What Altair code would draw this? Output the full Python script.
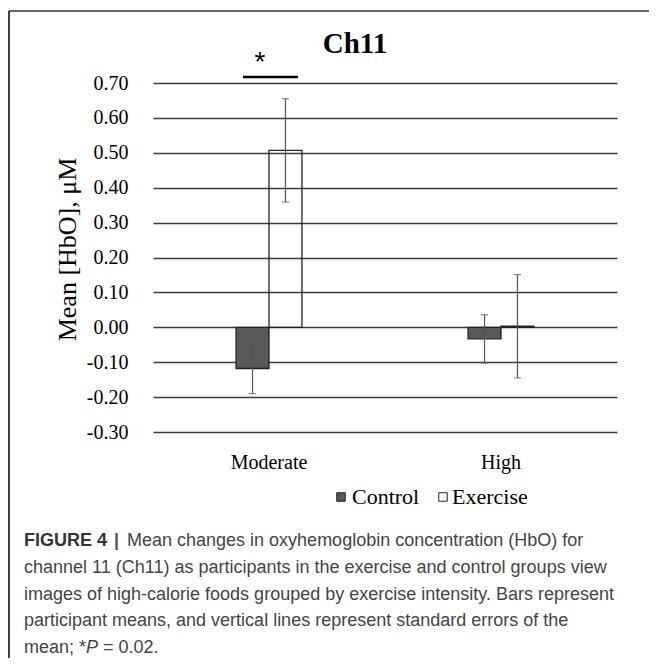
import altair as alt
import pandas as pd

# ---- data ----
groups = ["Moderate", "High"]
conditions = ["Control", "Exercise"]
control_means = [-0.118, -0.033]
exercise_means = [0.507, 0.003]
control_se = [0.072, 0.069]
exercise_se = [0.148, 0.148]
y_ticks = [-0.3, -0.2, -0.1, 0.0, 0.1, 0.2, 0.3, 0.4, 0.5, 0.6, 0.7]
fill_colors = ["#595959", "transparent"]

chart_title = "Ch11"
y_title = "Mean [HbO], \u03bcM"
caption_lines = [
    "Mean changes in oxyhemoglobin concentration (HbO) for",
    "channel 11 (Ch11) as participants in the exercise and control groups view",
    "images of high-calorie foods grouped by exercise intensity. Bars represent",
    "participant means, and vertical lines represent standard errors of the",
]

rows = []
for i, g in enumerate(groups):
    rows.append({"group": g, "condition": "Control", "mean": control_means[i], "se": control_se[i]})
    rows.append({"group": g, "condition": "Exercise", "mean": exercise_means[i], "se": exercise_se[i]})
df = pd.DataFrame(rows)
df["lo"] = df["mean"] - df["se"]
df["hi"] = df["mean"] + df["se"]

SERIF = "Liberation Serif"
SANS = "Liberation Sans"

x_enc = alt.X(
    "group:N",
    sort=groups,
    scale=alt.Scale(paddingInner=0.716, paddingOuter=0.358),
    axis=alt.Axis(
        title=None, labelAngle=0, domain=False, ticks=False, labelPadding=20,
        labelFont=SERIF, labelFontSize=20, labelColor="black", grid=False,
    ),
)
xoff_enc = alt.XOffset("condition:N", sort=conditions,
                       scale=alt.Scale(paddingInner=0, paddingOuter=0))
y_scale = alt.Scale(domain=[-0.3, 0.7], nice=False, zero=False)
y_axis = alt.Axis(
    values=y_ticks,
    labelExpr="replace(format(datum.value, '.2f'), '\u2212', '-')",
    labelOverlap=False,
    domain=False, ticks=False, labelPadding=25,
    labelFont=SERIF, labelFontSize=20, labelColor="black",
    grid=True, gridColor="#3a3a3a", gridWidth=1.5,
    title=y_title, titleFont=SERIF, titleFontSize=26, titleFontWeight="normal",
    titleColor="black", titleX=-86, titleY=166, titleAngle=270,
    titleAlign="center", titleBaseline="middle",
)

base = alt.Chart(df)

bars = base.mark_bar(stroke="#222222", strokeWidth=1.3).encode(
    x=x_enc,
    xOffset=xoff_enc,
    y=alt.Y("mean:Q", scale=y_scale, axis=y_axis),
    y2=alt.datum(0),
    fill=alt.Fill(
        "condition:N",
        sort=conditions,
        scale=alt.Scale(domain=conditions, range=fill_colors),
        legend=None,
    ),
)

err = base.mark_rule(color="#555555", strokeWidth=1.2).encode(
    x=x_enc, xOffset=xoff_enc, y=alt.Y("lo:Q", scale=y_scale, axis=y_axis), y2="hi:Q"
)
cap_lo = base.mark_tick(orient="horizontal", size=7, thickness=1.2, color="#555555").encode(
    x=x_enc, xOffset=xoff_enc, y=alt.Y("lo:Q", scale=y_scale, axis=y_axis)
)
cap_hi = base.mark_tick(orient="horizontal", size=7, thickness=1.2, color="#555555").encode(
    x=x_enc, xOffset=xoff_enc, y=alt.Y("hi:Q", scale=y_scale, axis=y_axis)
)

one = alt.Chart(pd.DataFrame({"k": [0]}))

# legend (drawn by hand to keep the serif Excel look)
legend_layers = []
leg_sym_x = [188, 290]
leg_txt_x = [199, 299]
for c, col, sx, tx in zip(conditions, fill_colors, leg_sym_x, leg_txt_x):
    legend_layers.append(one.mark_square(
        size=72, fill=col, stroke="#222222", strokeWidth=1, opacity=1
    ).encode(x=alt.value(sx), y=alt.value(414)))
    legend_layers.append(one.mark_text(
        text=c, font=SERIF, fontSize=22, color="black", align="left", baseline="middle"
    ).encode(x=alt.value(tx), y=alt.value(414)))

title_mark = one.mark_text(
    text=chart_title, font=SERIF, fontSize=29, fontWeight="bold", color="black",
    align="center", baseline="alphabetic",
).encode(x=alt.value(202), y=alt.value(-30))

sig_line = one.mark_rule(color="black", strokeWidth=2.5).encode(
    x=alt.value(90), x2=alt.value(145), y=alt.value(-6)
)
sig_star = one.mark_text(
    text="*", font=SANS, fontSize=28, color="black", align="center", baseline="alphabetic"
).encode(x=alt.value(107), y=alt.value(-12))

frame_top = one.mark_rule(color="#666666", strokeWidth=2).encode(
    x=alt.value(-144), x2=alt.value(496), y=alt.value(-72)
)
frame_left = one.mark_rule(color="black", strokeWidth=1.5).encode(
    x=alt.value(-144), y=alt.value(-72), y2=alt.value(575)
)

FS = 18
cap_layers = []
cap_x = -129
base_y = 463
step = 26.8
cap_layers.append(one.mark_text(
    text="FIGURE 4", font=SANS, fontSize=FS, fontWeight="bold", color="#333333",
    align="left", baseline="alphabetic",
).encode(x=alt.value(cap_x), y=alt.value(base_y)))
cap_layers.append(one.mark_text(
    text="|", font=SANS, fontSize=FS, fontWeight="bold", color="#555555",
    align="left", baseline="alphabetic",
).encode(x=alt.value(-39), y=alt.value(base_y)))
cap_layers.append(one.mark_text(
    text=caption_lines[0], font=SANS, fontSize=FS, color="#444444",
    align="left", baseline="alphabetic",
).encode(x=alt.value(-26), y=alt.value(base_y)))
for j, line in enumerate(caption_lines[1:], start=1):
    cap_layers.append(one.mark_text(
        text=line, font=SANS, fontSize=FS, color="#444444",
        align="left", baseline="alphabetic",
    ).encode(x=alt.value(cap_x), y=alt.value(base_y + step * j)))
last_y = base_y + step * 4
cap_layers.append(one.mark_text(
    text="mean; *", font=SANS, fontSize=FS, color="#444444",
    align="left", baseline="alphabetic",
).encode(x=alt.value(cap_x), y=alt.value(last_y)))
cap_layers.append(one.mark_text(
    text="P", font=SANS, fontSize=FS, fontStyle="italic", color="#444444",
    align="left", baseline="alphabetic",
).encode(x=alt.value(-67), y=alt.value(last_y)))
cap_layers.append(one.mark_text(
    text="= 0.02.", font=SANS, fontSize=FS, color="#444444",
    align="left", baseline="alphabetic",
).encode(x=alt.value(-50), y=alt.value(last_y)))

chart = alt.layer(
    bars, err, cap_lo, cap_hi, *legend_layers, title_mark, sig_line, sig_star,
    frame_top, frame_left, *cap_layers,
).properties(
    width=464, height=349,
    autosize=alt.AutoSizeParams(type="none"),
    padding={"left": 145, "top": 75, "right": 32, "bottom": 226},
    background="white",
).configure_view(stroke=None)

chart.save("out.html", embed_options={"renderer": "svg", "actions": False})
